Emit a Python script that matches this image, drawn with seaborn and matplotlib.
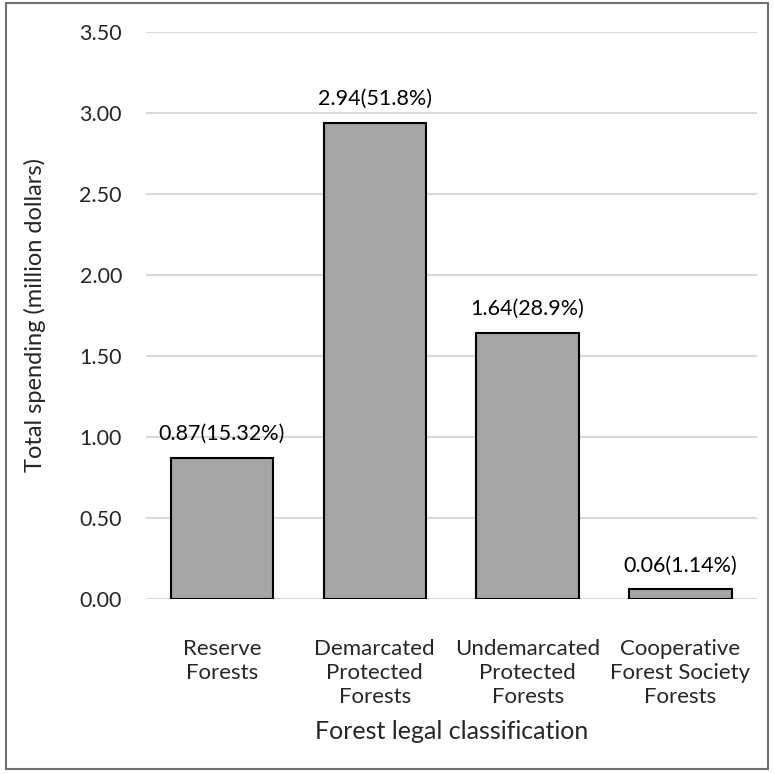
import pandas as pd
import numpy as np
import matplotlib.pyplot as plt
import seaborn as sns
from matplotlib.patches import Rectangle

# Data
categories = ['Reserve\nForests', 'Demarcated\nProtected\nForests',
              'Undemarcated\nProtected\nForests', 'Cooperative\nForest Society\nForests']
spending = [0.87, 2.94, 1.64, 0.06]
shares = ['15.32%', '51.8%', '28.9%', '1.14%']
yticks = [0.0, 0.5, 1.0, 1.5, 2.0, 2.5, 3.0, 3.5]

df = pd.DataFrame({'classification': categories, 'spending': spending})

sns.set_theme(style='white')
plt.rcParams['font.family'] = ['Lato', 'DejaVu Sans']
plt.rcParams['text.color'] = '#000000'

fig, ax = plt.subplots(figsize=(7.74, 7.74), dpi=100)
fig.subplots_adjust(left=0.188, right=0.978, bottom=0.226, top=0.959)

sns.barplot(data=df, x='classification', y='spending', color='#A5A5A5',
            saturation=1, edgecolor='black', linewidth=1.5, width=0.67,
            ax=ax, zorder=3)

# value labels above bars
for i, (v, s) in enumerate(zip(spending, shares)):
    ax.annotate(f'{v:.2f}({s})', (i, v), xytext=(0, 10), textcoords='offset points',
                ha='center', va='bottom', fontsize=15.5)

ax.set_ylim(0, 3.5)
ax.set_yticks(yticks)
ax.set_yticklabels([f'{t:.2f}' for t in yticks], fontsize=15.5)
ax.yaxis.grid(True, color='#D9D9D9', linewidth=1.5, zorder=0)
ax.set_axisbelow(True)
ax.tick_params(axis='both', length=0)
ax.tick_params(axis='y', pad=17)
ax.tick_params(axis='x', pad=29, labelsize=16)
for lbl in ax.get_xticklabels():
    lbl.set_linespacing(1.25)
for sp in ax.spines.values():
    sp.set_visible(False)

ax.set_xlabel('Forest legal classification', fontsize=18, labelpad=9)
ax.set_ylabel('Total spending (million dollars)', fontsize=17, labelpad=24)

# outer frame around the chart
fig.patches.append(Rectangle((0.008, 0.007), 0.984, 0.989, transform=fig.transFigure,
                             fill=False, edgecolor='#6F6F6F', linewidth=1.5))

plt.savefig('out.png', dpi=100)
plt.close()
